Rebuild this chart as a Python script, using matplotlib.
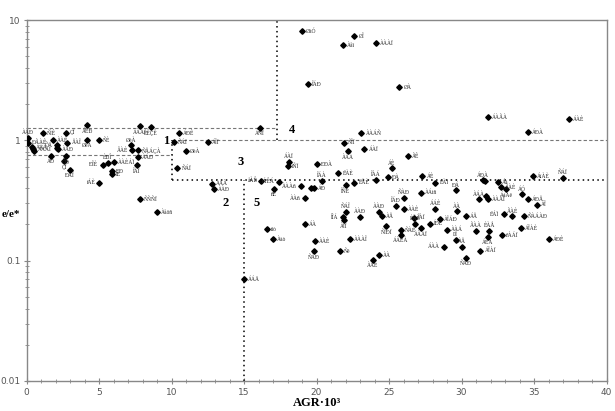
import numpy as np
import matplotlib
matplotlib.use("Agg")
import matplotlib.pyplot as plt
from matplotlib.ticker import FixedLocator, MultipleLocator, LogLocator, NullFormatter

# AGR*10^3, e/e* and the (garbled) company labels
agr = [4.2, 7.8, 8.6, 0.12, 0.08, 1.12, 1.8, 2.7, 0.36, 0.47,
       0.52, 2.13, 2.13, 2.15, 2.82, 4.2, 5.0, 1.7, 2.7, 2.6,
       3.0, 7.2, 7.3, 7.7, 7.7, 7.6, 5.25, 5.6, 6.0, 5.9,
       5.9, 5.0, 7.8, 9.0, 10.15, 10.5, 11.0, 10.4, 12.5, 16.1,
       18.1, 18.0, 20.0, 21.5, 20.4, 21.9, 22.2, 23.3, 23.1, 26.3,
       24.1, 24.9, 25.2, 27.3, 31.5, 31.6, 34.9, 37.0, 34.6, 19.0,
       22.6, 21.8, 24.1, 19.4, 25.7, 31.8, 37.4, 12.8, 12.9, 16.2,
       17.4, 17.1, 18.9, 19.6, 19.8, 19.2, 16.6, 17.0, 19.2, 19.9,
       19.8, 15.0, 22.0, 22.6, 22.0, 21.8, 21.9, 23.0, 22.3, 21.6,
       24.3, 23.9, 24.3, 24.5, 24.8, 25.5, 26.0, 25.8, 25.8, 26.0,
       27.2, 26.7, 26.8, 27.2, 27.8, 28.2, 28.2, 28.5, 29.0, 29.6,
       28.8, 29.6, 29.7, 30.3, 30.0, 30.3, 31.3, 31.0, 31.9, 31.8,
       32.8, 32.9, 33.5, 34.3, 34.1, 35.2, 36.0, 32.5, 32.7, 33.1,
       34.2, 34.6, 31.2, 31.7, 31.8]
ratio = [1.33, 1.31, 1.29, 1.045, 0.957, 1.14, 1.01, 1.16, 0.88, 0.845,
         0.82, 0.909, 0.863, 0.84, 0.957, 1.01, 1.01, 0.74, 0.74, 0.673,
         0.57, 0.909, 0.826, 0.826, 0.727, 0.62, 0.628, 0.65, 0.66, 0.556,
         0.522, 0.445, 0.323, 0.254, 0.968, 1.14, 0.815, 0.589, 0.96, 1.27,
         0.66, 0.608, 0.635, 0.532, 0.459, 0.957, 0.81, 0.846, 1.14, 0.74,
         0.471, 0.495, 0.585, 0.505, 0.465, 0.455, 0.502, 0.486, 1.17, 8.06,
         7.36, 6.16, 6.44, 2.92, 2.77, 1.56, 1.51, 0.436, 0.394, 0.462,
         0.453, 0.394, 0.415, 0.401, 0.401, 0.331, 0.183, 0.152, 0.2, 0.146,
         0.12, 0.0703, 0.425, 0.445, 0.254, 0.231, 0.216, 0.231, 0.152, 0.121,
         0.111, 0.101, 0.254, 0.233, 0.194, 0.284, 0.268, 0.181, 0.163, 0.334,
         0.368, 0.228, 0.203, 0.186, 0.203, 0.445, 0.27, 0.223, 0.181, 0.149,
         0.131, 0.384, 0.257, 0.233, 0.131, 0.106, 0.121, 0.176, 0.178, 0.157,
         0.162, 0.242, 0.233, 0.233, 0.186, 0.292, 0.151, 0.45, 0.409, 0.392,
         0.356, 0.323, 0.323, 0.343, 0.323]
names = ["ÁÈÐ", "ÀÀÀÌ", "ÈÊÇÊ", "ÀÀÐ", "ÐÃÀÊ", "ÑÌÊ", "ÀÀÊ", "ÇÏ", "ÀÀÀ", "ÀÀÀÌ",
         "", "ÕÄ", "", "ÀÀÐ", "ÅÀÎ", "ØèÀ", "ÑÈ", "ÀÐ", "ÕÐ", "ÇÏ",
         "ÐÀÎ", "ØèÀ", "ÂÀÈ", "ÑÅÁÇÀ", "ÀÁÐ", "ÎÁÎ", "ÐÎÈ", "ÈÐÎ", "ÀÀÈÁÏ", "ÐÐ",
         "ÍÈ", "ïÁÈ", "ÑÑÑÏ", "Àåöñ", "ÑÁÏ", "ÁÐÊ", "ØèÀ", "ÑÁÏ", "ÁÎÏ", "ÁÑÏ",
         "ÁÀÏ", "íÑÏ", "ÐÐÀ", "ËÀÈ", "ÎÁÀ", "ÑÎÏ", "ÀÀÀ", "ÁÀÏ", "ÀÀÁÑ", "ÃÊ",
         "ÎÀÁ", "ÐÀ", "ÁÈ", "ÁÈ", "ÁÐÀ", "", "ÁíÀÈ", "ÑÁÏ", "ÁÐÀ", "ØàÓ",
         "ØÎ", "Àåî", "ÀÀÀÏ", "ÎÁÐ", "ØÀ", "ÁÀÃÀ", "ÁÀÈ", "ÀÁÀ", "ÀÀÐ", "åÀÊ",
         "íÁÊÁ", "ñÈ", "ÀÀÀñ", "", "ÁÐ", "ÀÀñ", "ííò", "Ààò", "ÁÀ", "ÀÀÈ",
         "ÑÀÐ", "ÁÁÄ", "ÎÑÈ", "ËÀÈ", "ÑÁÎ", "ÎÎÁ", "ÀÎÎ", "ÀÀÐ", "ÀÀÀÎ", "Ñê",
         "ÀÀ", "ÀÀÈ", "ÀÀÐ", "ÀÅ", "ÑÎÐÏ", "ÎÁÐ", "ÀÀÈ", "ÑÀÈ", "ÁÀÈÀ", "ÑÀÐ",
         "ÀÁìñ", "ÎÀÏ", "ÈÑÈ", "ÀÀÀÏ", "ÍÐÈ", "ËÀÏ", "ÁÁÈ", "ÀÎÁÐ", "ÀÀÁ", "ÞÎ",
         "ÁÀÀ", "ÐÁ", "ÀÀ", "ÁÅ", "ÀÅ", "ÑÀÐ", "ÁÎÀÏ", "ÃÀÀ", "ÈÀÅ", "ÁÈÀ",
         "ñÀÁÏ", "ËÁÏ", "ÃÀÈ", "ÑÀÁÀÐ", "ÁÎÀÈ", "ÁÎ", "ÁÐÈ", "Áá", "ÃÀÈ", "ÁáÀê",
         "ÁÓ", "ÁÐÅ", "ÀÁÀ", "", "ÀÀÀÎ"]
# where each label sits relative to its marker
sides = ["b", "b", "b", "a", "r", "r", "r", "r", "r", "r",
         "r", "l", "r", "r", "r", "b", "r", "b", "b", "b",
         "b", "a", "l", "r", "r", "b", "l", "a", "r", "r",
         "r", "l", "r", "r", "r", "r", "r", "r", "r", "b",
         "a", "r", "r", "r", "a", "r", "b", "r", "r", "r",
         "a", "r", "a", "r", "a", "r", "r", "a", "r", "r",
         "r", "r", "r", "r", "r", "r", "r", "r", "r", "l",
         "l", "b", "l", "r", "r", "l", "r", "r", "r", "r",
         "b", "r", "b", "r", "a", "l", "b", "a", "r", "r",
         "r", "b", "a", "r", "b", "a", "r", "r", "b", "a",
         "r", "r", "a", "b", "r", "r", "a", "r", "r", "a",
         "l", "a", "a", "r", "a", "b", "r", "a", "a", "b",
         "r", "l", "a", "r", "r", "r", "r", "r", "r", "b",
         "a", "r", "a", "r", "r"]

# region numbers and their places
region_ids = ["1", "2", "3", "4", "5"]
region_x = [9.6, 13.7, 14.8, 18.3, 15.9]
region_y = [0.98, 0.30, 0.66, 1.21, 0.30]

serif = "Liberation Serif"
offsets = {"r": ((3, 0), "left", "center"), "l": ((-3, 0), "right", "center"),
           "a": ((0, 2), "center", "bottom"), "b": ((0, -2), "center", "top")}

fig = plt.figure(figsize=(6.15, 4.11), dpi=100)
ax = fig.add_axes([0.0431, 0.073, 0.9431, 0.8783])

ax.plot(agr, ratio, linestyle="none", marker="D", markersize=2.8, color="black", zorder=3)
for x, y, name, side in zip(agr, ratio, names, sides):
    if not name:
        continue
    off, ha, va = offsets[side]
    ax.annotate(name, (x, y), xytext=off, textcoords="offset points", ha=ha, va=va,
                fontsize=4, family=serif, color="#222222")

# region borders
light = dict(color="#777777", linewidth=0.8, linestyle=(0, (3, 2)))
heavy = dict(color="black", linewidth=1.1, linestyle=(0, (1, 2.2)))
ax.plot([0, 17.3], [1.26, 1.26], **light)
ax.plot([0, 10], [0.76, 0.76], **light)
ax.plot([10, 40], [1.0, 1.0], **light)
ax.plot([17.3, 17.3], [1.0, 10], **heavy)
ax.plot([10, 10], [0.465, 1.0], **heavy)
ax.plot([10, 40], [0.465, 0.465], **heavy)
ax.plot([15, 15], [0.01, 0.465], **heavy)

for rid, rx, ry in zip(region_ids, region_x, region_y):
    ax.text(rx, ry, rid, fontsize=9, fontweight="bold", family=serif, ha="center", va="center")

ax.set_yscale("log")
ax.set_xlim(0, 40)
ax.set_ylim(0.01, 10)
ax.xaxis.set_major_locator(MultipleLocator(5))
ax.xaxis.set_minor_locator(MultipleLocator(1))
ax.yaxis.set_major_locator(FixedLocator([0.01, 0.1, 1, 10]))
ax.yaxis.set_minor_locator(LogLocator(base=10, subs=np.arange(2, 10)))
ax.yaxis.set_minor_formatter(NullFormatter())
ax.set_yticklabels(["0.01", "0.1", "1", "10"])

for side in ["left", "bottom", "top", "right"]:
    ax.spines[side].set_color("#888888")
    ax.spines[side].set_linewidth(1.0)
ax.tick_params(which="both", direction="inout", color="#888888", labelsize=6.5,
               labelcolor="#555555", top=False, right=False)
ax.tick_params(which="major", length=4)
ax.tick_params(which="minor", length=2.5)
ax.tick_params(axis="x", pad=3)
ax.tick_params(axis="y", pad=2)

ax.set_xlabel("AGR·10³", fontsize=9, fontweight="bold", family=serif, labelpad=0)
fig.text(0.002, 1 - 214 / 411, "e/e*", fontsize=8, fontweight="bold", family=serif,
         ha="left", va="center")

fig.savefig("out.png", dpi=100)
